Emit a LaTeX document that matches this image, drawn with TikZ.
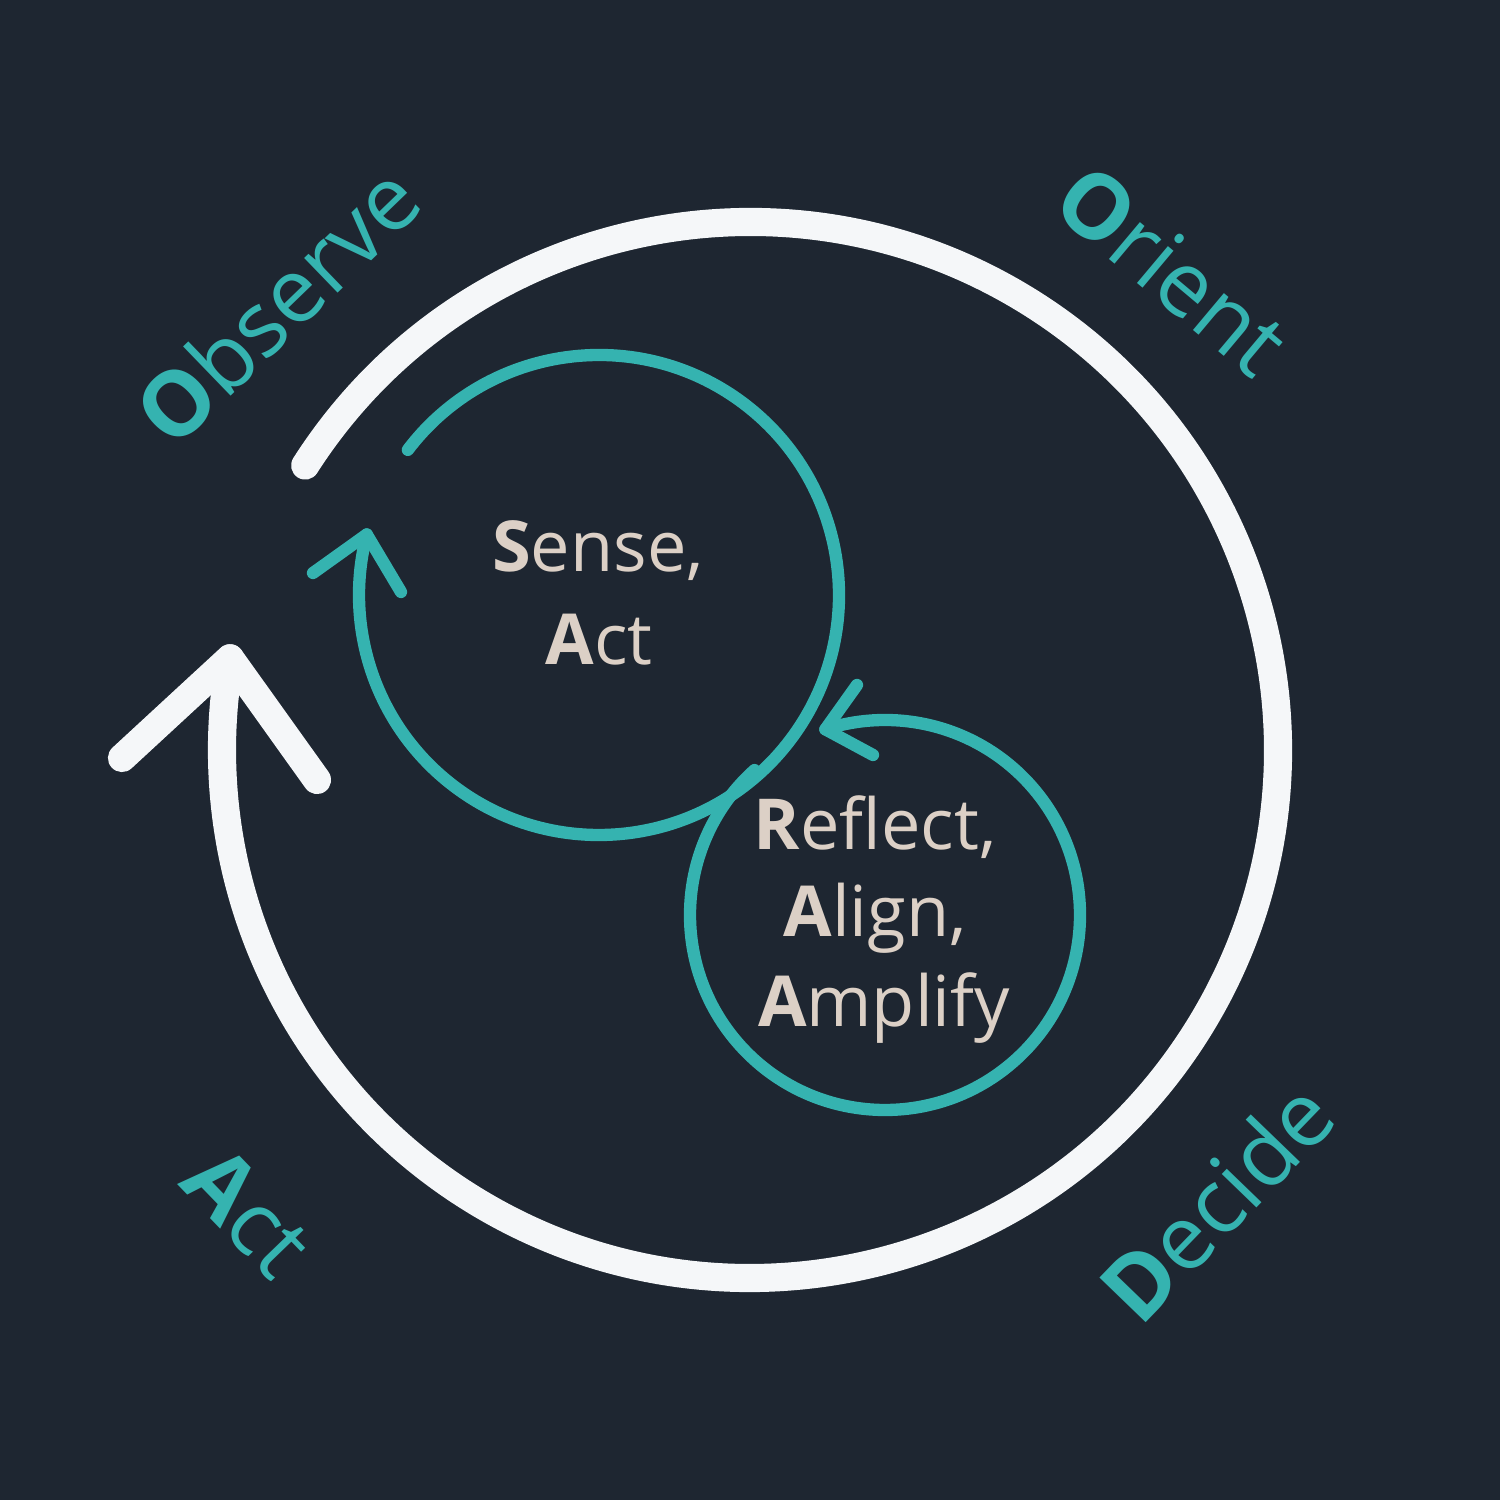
\documentclass[tikz,border=0pt]{standalone}
\usepackage{fontspec}
\setmainfont{Open Sans}
\usetikzlibrary{calc}
\definecolor{bgc}{HTML}{1E2631}
\definecolor{tealc}{HTML}{35B3B0}
\definecolor{ringc}{HTML}{F5F7F9}
\definecolor{beigec}{HTML}{DCD0C6}
\begin{document}
\begin{tikzpicture}[x=0.01cm,y=0.01cm,
  bigline/.style={line width=8pt, draw=ringc, line cap=round, line join=round},
  tline/.style={line width=3.5pt, draw=tealc, line cap=round, line join=round},
  innertext/.style={inner sep=0pt, text=beigec, anchor=base, font=\fontsize{20pt}{24pt}\selectfont},
  phase/.style={inner sep=0pt, text=tealc, anchor=center, font=\fontsize{25.6pt}{30pt}\selectfont}]
\fill[bgc] (0,0) rectangle (1500,1500);
\useasboundingbox (0,0) rectangle (1500,1500);

% big white loop
\coordinate (C0) at (750,750);
\draw[bigline] ($(C0)+(147.4:528)$) arc[start angle=147.4,end angle=-190,radius=528] coordinate (wtip);
\coordinate (wl) at (122,742);
\coordinate (wr) at (317,720);
\draw[bigline] (wl) -- (wtip) -- (wr);

% teal loop 1
\coordinate (C1) at (599,905);
\draw[tline] ($(C1)+(142.8:240)$) arc[start angle=142.8,end angle=-194.6,radius=240] coordinate (t1tip);
\coordinate (t1l) at (313,927);
\coordinate (t1r) at (401,908);
\draw[tline] (t1l) -- (t1tip) -- (t1r);

% teal loop 2
\coordinate (C2) at (885,585);
\draw[tline] ($(C2)+(132:195)$) arc[start angle=132,end angle=467.8,radius=195] coordinate (t2tip);
\coordinate (t2u) at (857,815);
\coordinate (t2d) at (873,745);
\draw[tline] (t2u) -- (t2tip) -- (t2d);

% inner texts
\node[innertext] (s1) at (598,928) {\textbf{S}ense,};
\node[innertext] (s2) at (599,835) {\textbf{A}ct};
\node[innertext] (r1) at (875,650) {\textbf{R}eflect,};
\node[innertext] (r2) at (875,563) {\textbf{A}lign,};
\node[innertext] (r3) at (884,473) {\textbf{A}mplify};

% phase labels
\node[phase, rotate=44] (obs) at (277,1195) {\textbf{O}bserve};
\node[phase, rotate=-40] (ori) at (1172,1230) {\textbf{O}rient};
\node[phase, rotate=46] (dec) at (1216,299) {\textbf{D}ecide};
\node[phase, rotate=-46] (act) at (248,288) {\textbf{A}ct};
\end{tikzpicture}
\end{document}
